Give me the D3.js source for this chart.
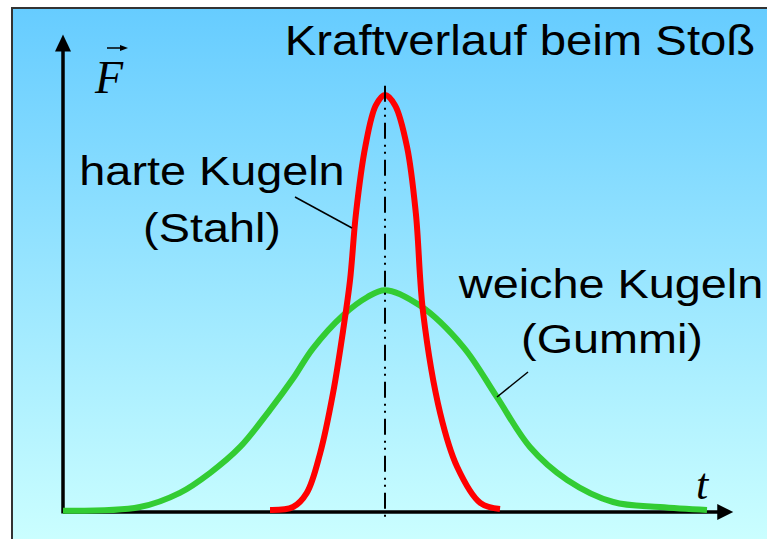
<!DOCTYPE html>
<html>
<head>
<meta charset="utf-8">
<script src="https://cdn.jsdelivr.net/npm/d3@7"></script>
<style>
  html, body { margin: 0; padding: 0; background: #fff; }
  svg { display: block; }
</style>
</head>
<body>
<svg id="vis"></svg>
<script>
const WIDTH = 767;
const HEIGHT = 539;

// hard spheres (steel): short, high force peak
const hardT = [4.5, 5.0, 5.3, 5.59, 5.87, 6.09, 6.24, 6.37, 6.57, 6.8, 7.0, 7.22, 7.48, 7.67, 7.83, 8.2, 8.57, 9.07, 9.5];
const hardF = [0.05, 0.12, 0.46, 1.41, 2.85, 4.36, 5.56, 7.17, 8.75, 9.75, 10, 9.75, 8.75, 7.17, 4.77, 2.37, 1.08, 0.22, 0.07];

// soft spheres (rubber): long, low force peak
const softT = [0, 1.67, 2.54, 3.2, 3.85, 4.5, 5.0, 5.43, 6.09, 6.61, 7.0, 7.76, 8.7, 9.43, 10.15, 10.96, 11.96, 12.98, 14.0];
const softF = [0.03, 0.12, 0.46, 0.94, 1.56, 2.45, 3.2, 3.92, 4.72, 5.15, 5.32, 4.95, 3.96, 2.76, 1.56, 0.77, 0.24, 0.12, 0.05];

const T_MAX = 14.57;   // end of time axis (arrow tip)
const F_MAX = 11.45;   // end of force axis (arrow tip)
const T_CENTER = 7.0;  // moment of max force

const TITLE = "Kraftverlauf beim Stoß";
const HARD_LABEL = ["harte Kugeln", "(Stahl)"];
const SOFT_LABEL = ["weiche Kugeln", "(Gummi)"];

const svg = d3.select("#vis")
    .attr("width", WIDTH)
    .attr("height", HEIGHT);

const x = d3.scaleLinear().domain([0, 14.6]).range([63, 63 + 14.6 * 46]);
const y = d3.scaleLinear().domain([0, 10]).range([512, 95]);

// background with gradient + frame
const defs = svg.append("defs");
const grad = defs.append("linearGradient")
    .attr("id", "bg")
    .attr("x1", 0).attr("y1", 0).attr("x2", 0).attr("y2", 1);
grad.append("stop").attr("offset", "0%").attr("stop-color", "#66ccff");
grad.append("stop").attr("offset", "100%").attr("stop-color", "#ccffff");

svg.append("rect")
    .attr("x", 12).attr("y", 8)
    .attr("width", WIDTH).attr("height", HEIGHT)
    .style("fill", "url(#bg)")
    .style("stroke", "#333")
    .style("stroke-width", 2);

// axes
const axisColor = "#000";
svg.append("line")
    .attr("x1", x(0)).attr("y1", y(0))
    .attr("x2", x(T_MAX) - 12).attr("y2", y(0))
    .style("stroke", axisColor).style("stroke-width", 3.5);
svg.append("path")
    .attr("d", `M${x(T_MAX)},${y(0)} L${x(T_MAX) - 16},${y(0) - 8} L${x(T_MAX) - 16},${y(0) + 8} Z`)
    .style("fill", axisColor);

svg.append("line")
    .attr("x1", x(0)).attr("y1", y(0) + 1.5)
    .attr("x2", x(0)).attr("y2", y(F_MAX) + 12)
    .style("stroke", axisColor).style("stroke-width", 3.5);
svg.append("path")
    .attr("d", `M${x(0)},${y(F_MAX)} L${x(0) - 8},${y(F_MAX) + 17} L${x(0) + 8},${y(F_MAX) + 17} Z`)
    .style("fill", axisColor);

// curves
const line = d3.line()
    .x(d => x(d[0]))
    .y(d => y(d[1]))
    .curve(d3.curveCatmullRom.alpha(0.5));

svg.append("path")
    .datum(d3.zip(softT, softF))
    .attr("d", line)
    .style("fill", "none")
    .style("stroke", "#33cc33")
    .style("stroke-width", 6);

svg.append("path")
    .datum(d3.zip(hardT, hardF))
    .attr("d", line)
    .style("fill", "none")
    .style("stroke", "#ff0000")
    .style("stroke-width", 6);

// dash-dot center line
svg.append("line")
    .attr("x1", x(T_CENTER)).attr("y1", y(10.22))
    .attr("x2", x(T_CENTER)).attr("y2", y(-0.18))
    .style("stroke", "#000")
    .style("stroke-width", 2)
    .style("stroke-dasharray", "16,6,2,5,2,6");

// text helper: horizontally stretched text like the original slide
function label(txt, cx, baseline, size, sx) {
    svg.append("text")
        .attr("transform", `translate(${cx},${baseline}) scale(${sx},1)`)
        .attr("text-anchor", "middle")
        .style("font-family", "'Liberation Sans', Arial, sans-serif")
        .style("font-size", size + "px")
        .style("fill", "#000")
        .text(txt);
}

label(TITLE, 520, 55, 43, 1.1);
label(HARD_LABEL[0], 212, 185, 40, 1.17);
label(HARD_LABEL[1], 212, 242, 40, 1.17);
label(SOFT_LABEL[0], 611, 298, 40, 1.17);
label(SOFT_LABEL[1], 612, 353, 40, 1.17);

// leader lines
svg.append("line")
    .attr("x1", 295).attr("y1", 197).attr("x2", 352).attr("y2", 228)
    .style("stroke", "#000").style("stroke-width", 1.5);
svg.append("line")
    .attr("x1", 528).attr("y1", 372).attr("x2", 497).attr("y2", 397)
    .style("stroke", "#000").style("stroke-width", 1.5);

// axis symbols
svg.append("text")
    .attr("x", 95).attr("y", 93)
    .style("font-family", "'Liberation Serif', 'Times New Roman', serif")
    .style("font-style", "italic")
    .style("font-size", "46px")
    .text("F");
svg.append("line")
    .attr("x1", 107).attr("y1", 48).attr("x2", 124).attr("y2", 48)
    .style("stroke", "#000").style("stroke-width", 1.5);
svg.append("path")
    .attr("d", "M128,48 L120,45 L120,51 Z")
    .style("fill", "#000");

svg.append("text")
    .attr("x", 702).attr("y", 499)
    .attr("text-anchor", "middle")
    .style("font-family", "'Liberation Serif', 'Times New Roman', serif")
    .style("font-style", "italic")
    .style("font-size", "44px")
    .text("t");
</script>
</body>
</html>
